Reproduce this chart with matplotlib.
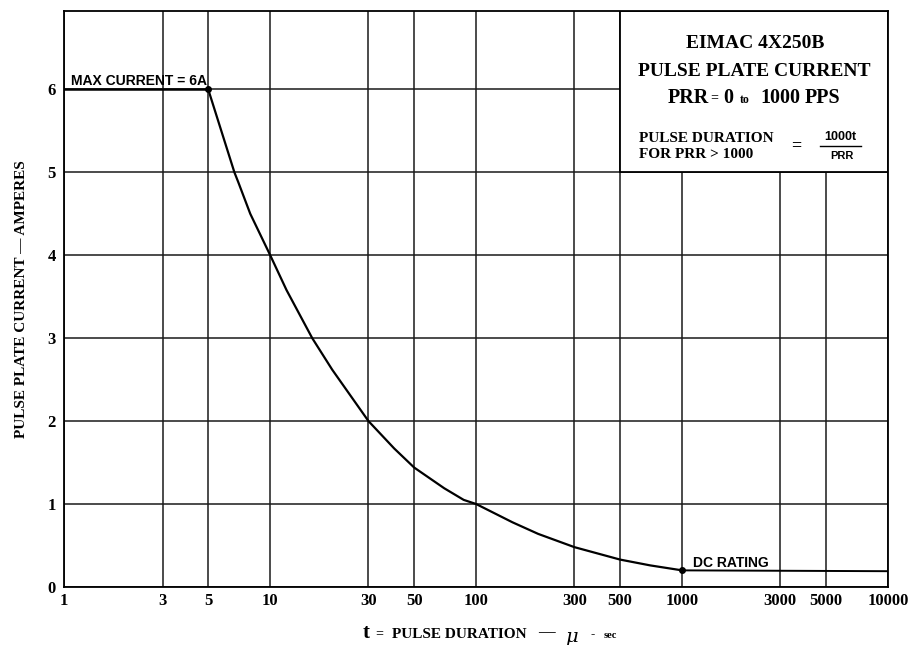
import numpy as np
import matplotlib.pyplot as plt
from matplotlib.patches import Rectangle

# values
pulse_t = [5, 6.7, 7, 8, 10, 12, 16, 20, 30, 40, 50, 70, 87, 100, 150, 200, 300, 500, 700, 1000]
plate_i = [6, 5.0, 4.88, 4.5, 4.0, 3.58, 3.0, 2.62, 2.0, 1.67, 1.44, 1.19, 1.05, 1.0, 0.78, 0.64, 0.48, 0.33, 0.26, 0.2]
dc_t = [1000, 10000]
dc_i = [0.2, 0.19]
max_t = [1, 5]
max_i = [6, 6]

x_ticks = [1, 3, 5, 10, 30, 50, 100, 300, 500, 1000, 3000, 5000, 10000]
y_ticks = [0, 1, 2, 3, 4, 5, 6]

serif = 'Liberation Serif'
sans = 'Liberation Sans'

fig = plt.figure(figsize=(9.12, 6.45), dpi=100)
ax = fig.add_axes([0.0705, 0.090, 0.9032, 0.8935])

ax.set_xscale('log')
ax.set_xlim(1, 10000)
ax.set_ylim(0, 6.95)

ax.set_xticks(x_ticks)
ax.set_xticklabels([str(v) for v in x_ticks])
ax.set_yticks(y_ticks)
ax.set_yticklabels([str(v) for v in y_ticks])
ax.minorticks_off()
ax.tick_params(length=0, labelsize=12, pad=4)
ax.tick_params(axis='y', pad=6)
for lab in ax.get_xticklabels() + ax.get_yticklabels():
    lab.set_fontfamily(serif)
    lab.set_fontweight('bold')

ax.set_axisbelow(True)
ax.grid(True, color='#1a1a1a', lw=1.1)
for s in ax.spines.values():
    s.set_linewidth(1.3)

# title box in the upper right corner
ax.add_patch(Rectangle((500, 5), 10000 - 500, 1.95, facecolor='white',
                       edgecolor='black', lw=1.3, zorder=1))

ax.plot(max_t, max_i, color='black', lw=1.8, zorder=3)
ax.plot(pulse_t, plate_i, color='black', lw=1.6, zorder=3)
ax.plot(dc_t, dc_i, color='black', lw=1.4, zorder=3)
ax.plot([pulse_t[0], pulse_t[-1]], [plate_i[0], plate_i[-1]], 'o', color='black', ms=4, zorder=4)

ax.text(1.08, 6.055, 'MAX CURRENT = 6A', fontsize=10, fontweight='bold', family=sans,
        va='baseline', ha='left')
ax.text(1130, 0.245, 'DC RATING', fontsize=10, fontweight='bold', family=sans,
        va='baseline', ha='left')

# box texts (figure pixel positions)
W, H = 912, 645
def ftext(x, y, s, **kw):
    fig.text(x / W, 1 - y / H, s, **kw)

ftext(755, 44, 'EIMAC 4X250B', fontsize=14, fontweight='bold', family=serif, ha='center', va='center')
ftext(754, 71, 'PULSE PLATE CURRENT', fontsize=14, fontweight='bold', family=serif, ha='center', va='center')
ftext(668, 98, 'PRR', fontsize=14.5, fontweight='bold', family=serif, ha='left', va='center')
ftext(714, 98, '=', fontsize=10, fontweight='bold', family=serif, ha='center', va='center')
ftext(723, 98, '0', fontsize=14.5, fontweight='bold', family=serif, ha='left', va='center')
ftext(740, 100, 'to', fontsize=8.5, fontweight='bold', family=serif, ha='left', va='center')
ftext(760, 98, '1000', fontsize=14.5, fontweight='bold', family=serif, ha='left', va='center')
ftext(805, 98, 'PPS', fontsize=14.5, fontweight='bold', family=serif, ha='left', va='center')

ftext(639, 138, 'PULSE DURATION', fontsize=11, fontweight='bold', family=serif, ha='left', va='center')
ftext(639, 155, 'FOR PRR > 1000', fontsize=11, fontweight='bold', family=serif, ha='left', va='center')
ftext(796, 146, '=', fontsize=13, fontweight='bold', family=serif, ha='center', va='center')
ftext(840, 137, '1000t', fontsize=9, fontweight='bold', family=sans, ha='center', va='center')
ftext(842, 156, 'PRR', fontsize=8, fontweight='bold', family=sans, ha='center', va='center')
fig.add_artist(plt.Line2D([820 / W, 861 / W], [1 - 146 / H, 1 - 146 / H], color='black', lw=1))

# y axis label
ax.set_ylabel('PULSE PLATE CURRENT — AMPERES', fontsize=11, fontweight='bold',
              family=serif, labelpad=14)

# x axis label pieces
ftext(366, 633, 't', fontsize=15, fontweight='bold', family=serif, ha='center', va='center')
ftext(379, 634, '=', fontsize=10, fontweight='bold', family=serif, ha='center', va='center')
ftext(392, 634, 'PULSE DURATION', fontsize=11, fontweight='bold', family=serif, ha='left', va='center')
ftext(546, 632, '—', fontsize=12, fontweight='bold', family=serif, ha='center', va='center')
ftext(571, 637, 'μ', fontsize=14, style='italic', family='DejaVu Serif', ha='center', va='center')
ftext(593, 634, '-', fontsize=9, fontweight='bold', family=serif, ha='center', va='center')
ftext(604, 636, 'sec', fontsize=7.5, fontweight='bold', family=serif, ha='left', va='center')

fig.savefig('out.png', dpi=100)
